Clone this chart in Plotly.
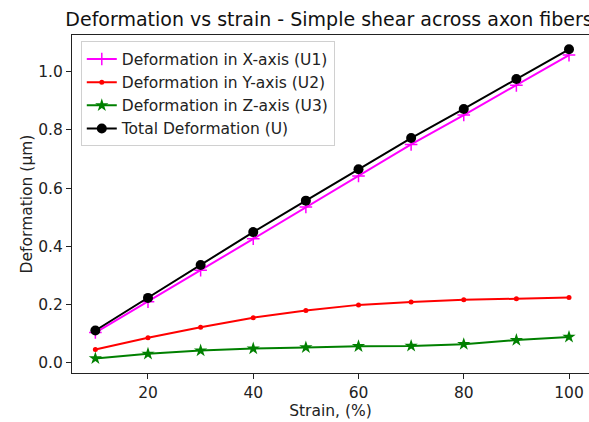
import plotly.graph_objects as go

strain = [10, 20, 30, 40, 50, 60, 70, 80, 90, 100]
u1 = [0.104, 0.210, 0.318, 0.426, 0.535, 0.642, 0.750, 0.851, 0.953, 1.057]
u2 = [0.046, 0.086, 0.122, 0.155, 0.180, 0.199, 0.209, 0.217, 0.220, 0.224]
u3 = [0.015, 0.031, 0.042, 0.049, 0.053, 0.057, 0.058, 0.064, 0.078, 0.089]
u_total = [0.111, 0.223, 0.336, 0.449, 0.557, 0.665, 0.772, 0.872, 0.975, 1.077]

names = ["Deformation in X-axis (U1)", "Deformation in Y-axis (U2)",
         "Deformation in Z-axis (U3)", "Total Deformation (U)"]
x_ticks = [20, 40, 60, 80, 100]
y_ticks = [0.0, 0.2, 0.4, 0.6, 0.8, 1.0]

font = "DejaVu Sans"
fs = 15.5
fig = go.Figure()
styles = [
    (u1, "#ff00ff", dict(symbol="cross-thin", size=9, line=dict(width=1.5, color="#ff00ff"))),
    (u2, "#ff0000", dict(symbol="circle", size=5)),
    (u3, "#008000", dict(symbol="star", size=10)),
    (u_total, "#000000", dict(symbol="circle", size=10)),
]
for i, (vals, col, mk) in enumerate(styles):
    mk = dict(mk)
    mk.setdefault("color", col)
    fig.add_trace(go.Scatter(
        x=strain, y=vals, name=names[i], mode="lines+markers",
        line=dict(color=col, width=2), marker=mk, legendgroup=f"g{i}",
    ))

fig.update_layout(
    width=589, height=422,
    margin=dict(l=72, r=0, t=35, b=49),
    paper_bgcolor="white", plot_bgcolor="white",
    font=dict(family=font, size=fs, color="#222"),
    title=dict(text="Deformation vs strain - Simple shear across axon fibers",
               x=329 / 589, xref="container", xanchor="center",
               y=1 - 19 / 422, yref="container", yanchor="middle",
               font=dict(family=font, size=19, color="#111")),
    showlegend=True,
    legend=dict(x=0.017, y=0.981, xanchor="left", yanchor="top",
                bgcolor="rgba(255,255,255,0.9)", bordercolor="#d0d0d0", borderwidth=1,
                font=dict(family=font, size=fs, color="#222"),
                tracegroupgap=0, itemwidth=30),
)
fig.update_xaxes(
    range=[5.56, 103.8], tickvals=x_ticks, ticks="outside", ticklen=5, tickwidth=1,
    tickcolor="#222", showline=True, linecolor="#222", linewidth=1, mirror=True,
    showgrid=False, zeroline=False, automargin=False,
    tickfont=dict(family=font, size=fs),
    title=dict(text="Strain, (%)", standoff=4, font=dict(family=font, size=fs)),
)
fig.update_yaxes(
    range=[-0.035, 1.126], tickvals=y_ticks, tickformat=".1f", ticks="outside",
    ticklen=5, tickwidth=1, tickcolor="#222", showline=True, linecolor="#222",
    linewidth=1, mirror=False, showgrid=False, zeroline=False, automargin=False,
    tickfont=dict(family=font, size=fs),
    title=dict(text="Deformation (μm)", standoff=1, font=dict(family=font, size=fs)),
)
fig.write_html("out.html", config={"displayModeBar": False},
               post_script="document.body.style.margin='0';")
